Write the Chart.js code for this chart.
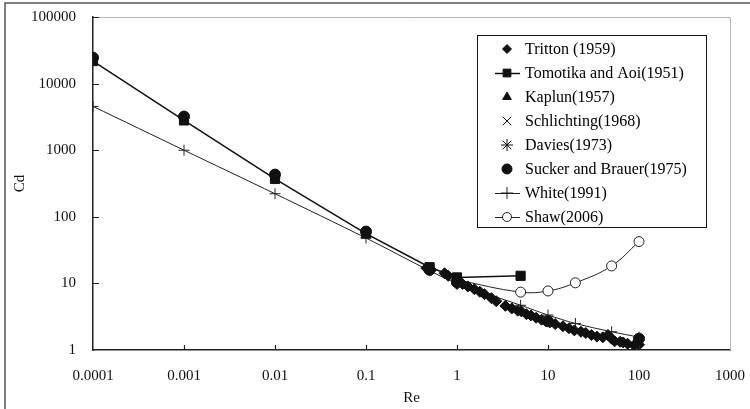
<!DOCTYPE html>
<html>
<head>
<meta charset="utf-8">
<script src="https://cdn.jsdelivr.net/npm/chart.js@4.4.1/dist/chart.umd.min.js"></script>
<style>
  html, body { margin: 0; padding: 0; background: #fff; }
  #wrap { width: 750px; height: 409px; }
</style>
</head>
<body>
<div id="wrap"><canvas id="chart" width="750" height="409"></canvas></div>
<script>
const xTicks = [0.0001, 0.001, 0.01, 0.1, 1, 10, 100, 1000];
const xTickLabels = ["0.0001", "0.001", "0.01", "0.1", "1", "10", "100", "1000"];
const yTicks = [1, 10, 100, 1000, 10000, 100000];
const yTickLabels = ["1", "10", "100", "1000", "10000", "100000"];

const trittonRe = [0.46, 0.52, 0.73, 0.8, 1.0, 1.0, 1.15, 1.32, 1.55, 1.78, 2.0, 2.39, 2.7, 3.4, 4.0, 4.65, 5.1, 5.8, 6.5, 7.4, 8.5, 9.5, 10.5, 12, 14.6, 17, 19.5, 23, 26, 30, 34.5, 40, 45.6, 50, 54, 62, 67, 75, 88, 100];
const trittonCd = [17, 16, 14.2, 13, 11.3, 9.8, 9.8, 9.0, 8.2, 7.5, 6.9, 6.0, 5.4, 4.6, 4.2, 3.9, 3.8, 3.45, 3.3, 3.05, 2.85, 2.72, 2.6, 2.45, 2.27, 2.12, 1.97, 1.88, 1.8, 1.68, 1.59, 1.55, 1.68, 1.48, 1.35, 1.33, 1.3, 1.24, 1.18, 1.2];

const tomotikaRe = [0.0001, 0.001, 0.01, 0.1, 0.5, 1, 5];
const tomotikaCd = [21800, 2800, 370, 56, 17.5, 12.3, 13];

const kaplunRe = [0.5, 1];
const kaplunCd = [16.5, 10.3];

const schlichtingRe = [1];
const schlichtingCd = [10.2];

const daviesRe = [0.5, 1];
const daviesCd = [16, 10.6];

const suckerRe = [0.0001, 0.001, 0.01, 0.1, 0.5, 1, 10, 100];
const suckerCd = [24500, 3200, 430, 60, 16, 10.5, 2.7, 1.48];

const whiteRe = [0.0001, 0.001, 0.01, 0.1, 0.5, 1, 5, 10, 20, 50, 100];
const whiteCd = [4550, 1000, 222, 48, 15.5, 10, 4.7, 3.35, 2.5, 1.88, 1.56];

const shawRe = [1, 5, 10, 20, 50, 100];
const shawCd = [11.3, 7.4, 7.7, 10.2, 18.3, 42.5];

const seriesNames = ["Tritton (1959)", "Tomotika and Aoi(1951)", "Kaplun(1957)", "Schlichting(1968)",
  "Davies(1973)", "Sucker and Brauer(1975)", "White(1991)", "Shaw(2006)"];

const pts = (xs, ys) => xs.map((x, i) => ({ x: x, y: ys[i] }));

const serif = "'Liberation Serif', 'Times New Roman', serif";

const datasets = [
  { label: seriesNames[0], data: pts(trittonRe, trittonCd), showLine: false,
    pointStyle: "rectRot", pointRadius: 5.5, pointBackgroundColor: "#111", pointBorderColor: "#111",
    pointBorderWidth: 1, legendRadius: 4.5 },
  { label: seriesNames[1], data: pts(tomotikaRe, tomotikaCd), showLine: true,
    borderColor: "#111", borderWidth: 1.5, pointStyle: "rect", pointRadius: 6.5,
    pointBackgroundColor: "#111", pointBorderColor: "#111", pointBorderWidth: 1, legendRadius: 5.5 },
  { label: seriesNames[2], data: pts(kaplunRe, kaplunCd), showLine: false,
    pointStyle: "triangle", pointRadius: 5, pointBackgroundColor: "#111", pointBorderColor: "#111",
    pointBorderWidth: 1, legendRadius: 5 },
  { label: seriesNames[3], data: pts(schlichtingRe, schlichtingCd), showLine: false,
    pointStyle: "crossRot", pointRadius: 5, pointBackgroundColor: "#111", pointBorderColor: "#111",
    pointBorderWidth: 1, legendRadius: 6 },
  { label: seriesNames[4], data: pts(daviesRe, daviesCd), showLine: false,
    pointStyle: "star", pointRadius: 5, pointBackgroundColor: "#111", pointBorderColor: "#111",
    pointBorderWidth: 1, legendRadius: 6 },
  { label: seriesNames[5], data: pts(suckerRe, suckerCd), showLine: false,
    pointStyle: "circle", pointRadius: 5.5, pointBackgroundColor: "#111", pointBorderColor: "#111",
    pointBorderWidth: 1, legendRadius: 5 },
  { label: seriesNames[6], data: pts(whiteRe, whiteCd), showLine: true, tension: 0.3,
    borderColor: "#222", borderWidth: 1, pointStyle: "cross", pointRadius: 5.5,
    pointBackgroundColor: "#222", pointBorderColor: "#222", pointBorderWidth: 1, legendRadius: 6 },
  { label: seriesNames[7], data: pts(shawRe, shawCd), showLine: true, tension: 0.4,
    borderColor: "#222", borderWidth: 1, pointStyle: "circle", pointRadius: 5,
    pointBackgroundColor: "#fff", pointBorderColor: "#222", pointBorderWidth: 1, legendRadius: 4.5 },
];

// frame, plot border, inside ticks and boxed legend
const decor = {
  id: "decor",
  beforeDraw(chart) {
    const ctx = chart.ctx;
    ctx.save();
    ctx.fillStyle = "#fff";
    ctx.fillRect(0, 0, chart.width, chart.height);
    ctx.strokeStyle = "#555";
    ctx.lineWidth = 1.5;
    ctx.strokeRect(5, 3, 760, 420);
    ctx.restore();
  },
  beforeDatasetsDraw(chart) {
    const { ctx, chartArea: a } = chart;
    ctx.save();
    ctx.strokeStyle = "#b4b4b4";
    ctx.lineWidth = 1;
    ctx.beginPath();
    ctx.moveTo(a.left, a.top + 0.5);
    ctx.lineTo(a.right + 0.5, a.top + 0.5);
    ctx.lineTo(a.right + 0.5, a.bottom);
    ctx.stroke();
    ctx.restore();
  },
  afterDatasetsDraw(chart) {
    const { ctx, chartArea: a } = chart;
    const xs = chart.scales.x, ys = chart.scales.y;
    ctx.save();
    ctx.strokeStyle = "#222";
    ctx.lineWidth = 1.2;
    ctx.beginPath();
    xTicks.slice(1, -1).forEach((v) => {
      const px = Math.round(xs.getPixelForValue(v)) + 0.5;
      ctx.moveTo(px, a.bottom);
      ctx.lineTo(px, a.bottom - 5);
    });
    yTicks.slice(1).forEach((v) => {
      const py = Math.round(ys.getPixelForValue(v)) + 0.5;
      ctx.moveTo(a.left, py);
      ctx.lineTo(a.left + 6, py);
    });
    ctx.stroke();
    ctx.restore();
  },
  afterDraw(chart) {
    const ctx = chart.ctx;
    ctx.save();
    ctx.fillStyle = "#fff";
    ctx.fillRect(477.5, 35.5, 229, 192);
    ctx.strokeStyle = "#111";
    ctx.lineWidth = 1;
    ctx.strokeRect(477.5, 35.5, 229, 192);
    ctx.font = "16px " + serif;
    ctx.textBaseline = "middle";
    chart.data.datasets.forEach((ds, i) => {
      const y = 49 + i * 24;
      const mx = 507;
      if (ds.showLine) {
        ctx.strokeStyle = ds.borderColor;
        ctx.lineWidth = ds.borderWidth;
        ctx.beginPath();
        ctx.moveTo(495, y + 0.5);
        ctx.lineTo(520, y + 0.5);
        ctx.stroke();
      }
      ctx.fillStyle = ds.pointBackgroundColor;
      ctx.strokeStyle = ds.pointBorderColor;
      ctx.lineWidth = ds.pointBorderWidth;
      Chart.helpers.drawPoint(ctx, {
        pointStyle: ds.pointStyle, radius: ds.legendRadius, rotation: 0,
        borderWidth: ds.pointBorderWidth,
      }, mx, y);
      ctx.fillStyle = "#000";
      ctx.fillText(ds.label, 525, y + 1);
    });
    ctx.restore();
  },
};

const tickFont = { family: serif, size: 15 };

new Chart(document.getElementById("chart"), {
  type: "scatter",
  data: { datasets: datasets },
  plugins: [decor],
  options: {
    responsive: false,
    devicePixelRatio: 1,
    animation: false,
    layout: { padding: { top: 17, right: 20, bottom: 0, left: 0 } },
    plugins: { legend: { display: false }, tooltip: { enabled: false } },
    scales: {
      x: {
        type: "logarithmic",
        min: 0.0001,
        max: 1000,
        afterBuildTicks: (s) => { s.ticks = xTicks.map((v) => ({ value: v })); },
        afterFit: (s) => { s.height = 59; s.paddingLeft = 0; s.paddingRight = 0; },
        ticks: {
          callback: (v, i) => xTickLabels[i],
          font: tickFont, color: "#111", padding: 17, maxRotation: 0, autoSkip: false,
        },
        grid: { display: false, drawTicks: false },
        border: { display: true, color: "#222", width: 1.5 },
        title: { display: true, text: "Re", font: tickFont, color: "#111", padding: { top: 0, bottom: 2 } },
      },
      y: {
        type: "logarithmic",
        min: 1,
        max: 100000,
        afterBuildTicks: (s) => { s.ticks = yTicks.map((v) => ({ value: v })); },
        afterFit: (s) => { s.width = 93; s.paddingTop = 0; s.paddingBottom = 0; },
        ticks: {
          callback: (v, i) => yTickLabels[i],
          font: tickFont, color: "#111", padding: 17, autoSkip: false,
        },
        grid: { display: false, drawTicks: false },
        border: { display: true, color: "#222", width: 1.5 },
        title: { display: true, text: "Cd", font: tickFont, color: "#111", padding: { top: 11, bottom: 0 } },
      },
    },
  },
});
</script>
</body>
</html>
